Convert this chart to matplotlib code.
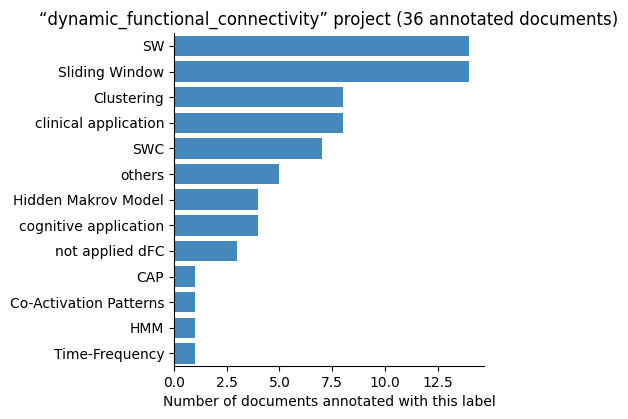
import matplotlib
matplotlib.use("Agg")
import matplotlib.pyplot as plt

# label counts, top to bottom
labels = [
    "SW", "Sliding Window", "Clustering", "clinical application", "SWC",
    "others", "Hidden Makrov Model", "cognitive application",
    "not applied dFC", "CAP", "Co-Activation Patterns", "HMM", "Time-Frequency",
]
counts = [14, 14, 8, 8, 7, 5, 4, 4, 3, 1, 1, 1, 1]

fig = plt.figure(figsize=(6.28, 4.19), dpi=100)
ax = fig.add_axes([0.277, 0.126, 0.494, 0.795])

ypos = list(range(len(labels)))
ax.barh(ypos, counts, height=0.8, color="#4489bc")
ax.set_yticks(ypos)
ax.set_yticklabels(labels)
ax.set_ylim(len(labels) - 0.5, -0.5)
ax.set_xlim(0, max(counts) * 1.05)

ax.spines["top"].set_visible(False)
ax.spines["right"].set_visible(False)
ax.set_xlabel("Number of documents annotated with this label")
ax.set_title("\u201cdynamic_functional_connectivity\u201d project (36 annotated documents)")

fig.savefig("out.png", dpi=100)
